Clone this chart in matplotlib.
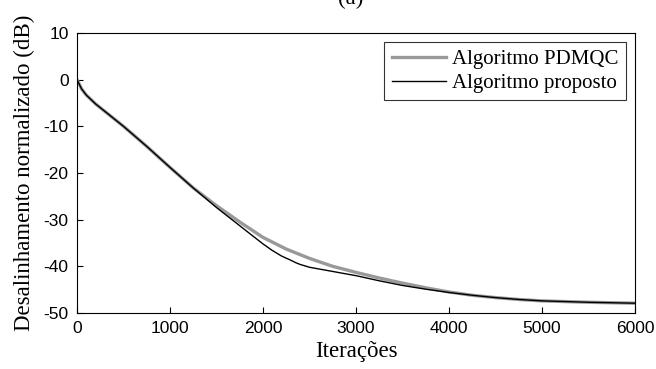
import matplotlib
matplotlib.use('Agg')
import matplotlib.pyplot as plt

plt.rcParams['axes.unicode_minus'] = False

# iteracoes e desalinhamento (dB)
it_pdmqc = [0, 50, 100, 200, 300, 500, 750, 1000, 1250, 1500, 1750, 2000, 2250,
            2500, 2750, 3000, 3250, 3500, 3750, 4000, 4250, 4500, 4750, 5000,
            5500, 6000]
nm_pdmqc = [0, -2.0, -3.3, -5.2, -6.8, -10.0, -14.3, -18.8, -23.2, -27.0, -30.5,
            -33.8, -36.3, -38.3, -40.0, -41.3, -42.5, -43.6, -44.6, -45.5, -46.2,
            -46.7, -47.1, -47.4, -47.7, -47.9]

it_prop = [0, 50, 100, 200, 300, 500, 750, 1000, 1250, 1500, 1750, 2000, 2100,
           2200, 2300, 2350, 2400, 2450, 2500, 2750, 3000, 3250, 3500, 3750,
           4000, 4250, 4500, 4750, 5000, 5500, 6000]
nm_prop = [0, -2.0, -3.3, -5.2, -6.8, -10.0, -14.3, -18.8, -23.2, -27.4, -31.3,
           -35.2, -36.6, -37.8, -38.7, -39.2, -39.6, -39.9, -40.2, -41.1, -42.0,
           -43.1, -44.1, -44.9, -45.6, -46.2, -46.7, -47.1, -47.4, -47.7, -47.9]

serif = ['Liberation Serif', 'DejaVu Serif']
sans = ['Liberation Sans', 'DejaVu Sans']

fig = plt.figure(figsize=(6.56, 3.69), dpi=100)
ax = fig.add_axes([77/656, 1-313/369, (635-77)/656, (313-33)/369])

ax.plot(it_pdmqc, nm_pdmqc, color='#999999', lw=2.4, label='Algoritmo PDMQC')
ax.plot(it_prop, nm_prop, color='black', lw=1.0, label='Algoritmo proposto')

ax.set_xlim(0, 6000)
ax.set_ylim(-50, 10)
ax.set_xticks(range(0, 6001, 1000))
ax.set_yticks(range(-50, 11, 10))
ax.tick_params(direction='in', length=4, width=0.8, labelsize=12.5, pad=6,
               top=False, right=False)
for lab in ax.get_xticklabels() + ax.get_yticklabels():
    lab.set_family(sans)
for s in ax.spines.values():
    s.set_linewidth(0.8)

ax.set_xlabel('Iterações', family=serif, fontsize=16.5, labelpad=3)
ax.set_ylabel('Desalinhamento normalizado (dB)', family=serif, fontsize=16.5,
              labelpad=6)

leg = ax.legend(loc='upper right', prop={'family': serif, 'size': 15},
                frameon=True, fancybox=False, edgecolor='black',
                borderpad=0.35, labelspacing=0.2, handlelength=2.6,
                handletextpad=0.3, borderaxespad=0.45)
leg.get_frame().set_linewidth(0.8)

fig.text(351/656, 1-4/369, '(a)', family=serif, fontsize=16.5,
         ha='center', va='baseline')

fig.savefig('out.png', dpi=100)
